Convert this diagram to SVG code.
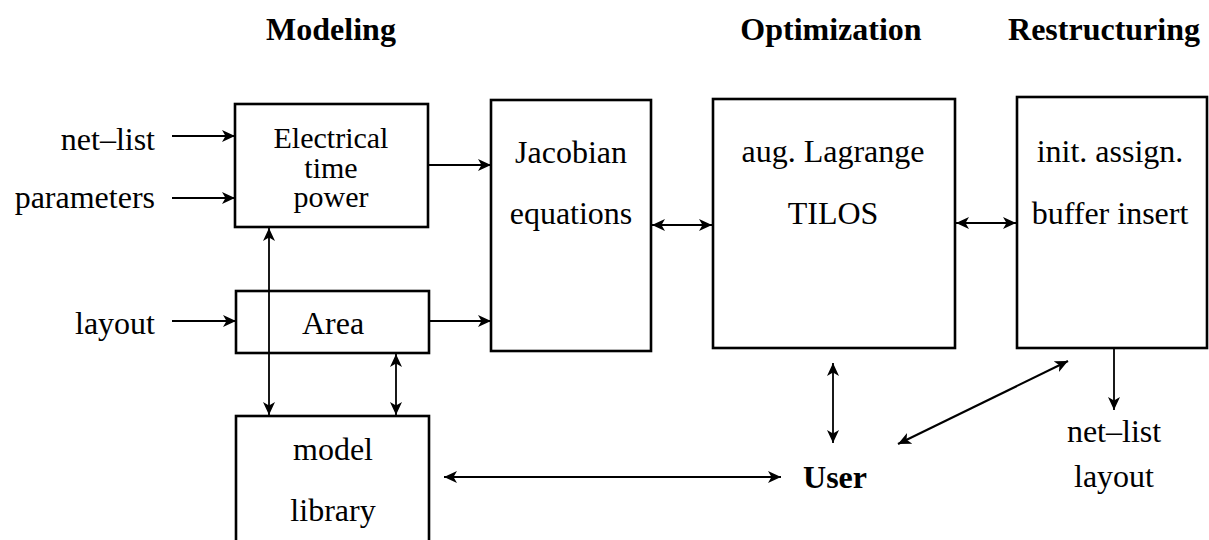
<svg xmlns="http://www.w3.org/2000/svg" width="1209" height="540" viewBox="0 0 1209 540">
  <defs>
    <style>
      .box { fill: #fff; stroke: #000; stroke-width: 2.6; }
      .txt { font-family: "Liberation Serif", "Times New Roman", serif; font-size: 32px; fill: #000; text-anchor: middle; }
      .tight { font-size: 30px; }
      .lbl { font-family: "Liberation Serif", "Times New Roman", serif; font-size: 32px; fill: #000; text-anchor: end; }
      .hdr { font-family: "Liberation Serif", "Times New Roman", serif; font-size: 32px; font-weight: bold; fill: #000; text-anchor: middle; }
      .wire { fill: none; stroke: #000; stroke-width: 1.8; }
      .heavy { stroke-width: 2.2; }
      .one { marker-end: url(#ah); }
      .two { marker-start: url(#ah); marker-end: url(#ah); }
    </style>
    <marker id="ah" markerUnits="userSpaceOnUse" markerWidth="16" markerHeight="14" refX="13" refY="6" orient="auto-start-reverse">
      <path d="M0,0 L13,6 L0,12 L3.5,6 Z" fill="#000"/>
    </marker>
  </defs>

  <rect width="1209" height="540" fill="#fff"/>

  <!-- column headings -->
  <g id="headings">
    <text class="hdr" x="331" y="40">Modeling</text>
    <text class="hdr" x="831" y="40">Optimization</text>
    <text class="hdr" x="1104" y="40">Restructuring</text>
  </g>

  <!-- inputs -->
  <g id="inputs">
    <text class="lbl" x="155" y="150">net–list</text>
    <text class="lbl" x="155" y="208">parameters</text>
    <text class="lbl" x="155" y="334">layout</text>
  </g>

  <g id="electrical">
    <rect class="box" x="235" y="104" width="193" height="123"/>
    <text class="txt tight" x="331" y="148">Electrical</text>
    <text class="txt tight" x="331" y="178">time</text>
    <text class="txt tight" x="331" y="207">power</text>
  </g>

  <g id="area">
    <rect class="box" x="236" y="291" width="193" height="62"/>
    <text class="txt" x="333" y="334">Area</text>
  </g>

  <g id="library">
    <rect class="box" x="236" y="416" width="193" height="140"/>
    <text class="txt" x="333" y="460">model</text>
    <text class="txt" x="333" y="521">library</text>
  </g>

  <g id="jacobian">
    <rect class="box" x="491" y="100" width="160" height="251"/>
    <text class="txt" x="571" y="163">Jacobian</text>
    <text class="txt" x="571" y="224">equations</text>
  </g>

  <g id="optimizer">
    <rect class="box" x="713" y="99" width="242" height="249"/>
    <text class="txt" x="833" y="162">aug. Lagrange</text>
    <text class="txt" x="833" y="224">TILOS</text>
  </g>

  <g id="restructure">
    <rect class="box" x="1017" y="97" width="190" height="251"/>
    <text class="txt" x="1110" y="162">init. assign.</text>
    <text class="txt" x="1110" y="224">buffer insert</text>
  </g>

  <g id="user">
    <text class="hdr" x="835" y="488">User</text>
  </g>

  <g id="outputs">
    <text class="txt" x="1114" y="442">net–list</text>
    <text class="txt" x="1114" y="487">layout</text>
  </g>

  <!-- connectors -->
  <g id="connectors">
    <line class="wire heavy one" x1="172" y1="136" x2="235" y2="136"/>
    <line class="wire heavy one" x1="172" y1="198" x2="235" y2="198"/>
    <line class="wire heavy one" x1="172" y1="321" x2="236" y2="321"/>
    <line class="wire one" x1="428" y1="165" x2="491" y2="165"/>
    <line class="wire one" x1="429" y1="321" x2="491" y2="321"/>
    <line class="wire two" x1="269" y1="228" x2="269" y2="415"/>
    <line class="wire two" x1="396" y1="354" x2="396" y2="415"/>
    <line class="wire two" x1="652" y1="225" x2="712" y2="225"/>
    <line class="wire two" x1="956" y1="223" x2="1016" y2="223"/>
    <line class="wire heavy two" x1="444" y1="477" x2="781" y2="477"/>
    <line class="wire two" x1="833" y1="363" x2="833" y2="443"/>
    <line class="wire heavy two" x1="898" y1="444" x2="1068" y2="361"/>
    <line class="wire one" x1="1114" y1="349" x2="1114" y2="410"/>
  </g>
</svg>
